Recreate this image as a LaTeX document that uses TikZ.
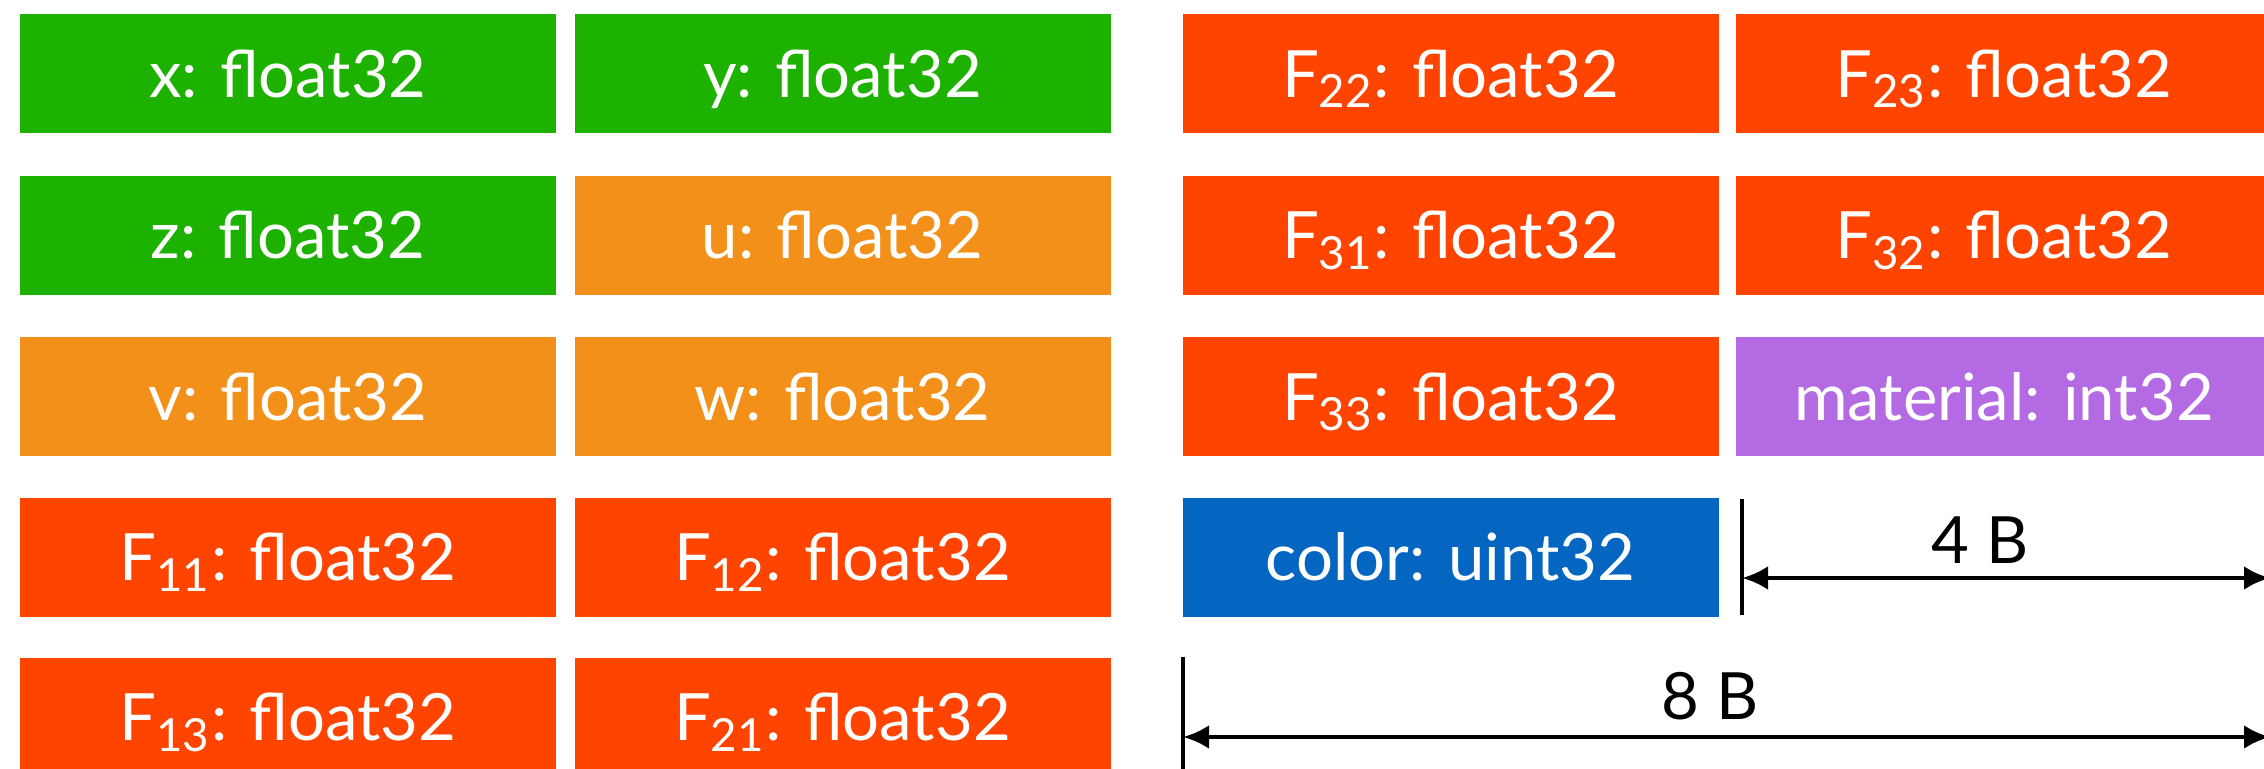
\documentclass[tikz,border=0pt]{standalone}
\usepackage{fontspec}
\setmainfont{Lato}
\usetikzlibrary{arrows.meta}

\definecolor{posgreen}{HTML}{1DB100}
\definecolor{velorange}{HTML}{F39019}
\definecolor{defred}{HTML}{FF4400}
\definecolor{matpurple}{HTML}{B36AE2}
\definecolor{colblue}{HTML}{0466C1}

\begin{document}
\begin{tikzpicture}[x=0.25pt,y=-0.25pt,
  field/.style={rectangle, minimum width=134pt, minimum height=29.75pt,
    inner sep=0pt, text=white, font=\fontsize{16.3}{18}\selectfont,
    text height=11.75pt, text depth=0pt},
  posf/.style={field, fill=posgreen},
  velf/.style={field, fill=velorange},
  deff/.style={field, fill=defred},
  matf/.style={field, fill=matpurple},
  colf/.style={field, fill=colblue},
  tick/.style={line width=1.1pt, black},
  span/.style={line width=1.2pt, black, {Latex[length=6.5pt,width=6pt]}-{Latex[length=6.5pt,width=6pt]}},
  sizelabel/.style={font=\fontsize{16.3}{18}\selectfont, text=black, inner sep=0pt,
    text height=11.75pt, text depth=0pt}]
\useasboundingbox (0,0) rectangle (2264,769);

% left block: two 4-byte fields per row
\node[posf] (x)   at (288,74)    {x: float32};
\node[posf] (y)   at (842.5,74)  {y: float32};
\node[posf] (z)   at (288,235.5) {z: float32};
\node[velf] (u)   at (842.5,235.5) {u: float32};
\node[velf] (v)   at (288,397)   {v: float32};
\node[velf] (w)   at (842.5,397) {w: float32};
\node[deff] (f11) at (288,557.5) {F\textsubscript{11}: float32};
\node[deff] (f12) at (842.5,557.5) {F\textsubscript{12}: float32};
\node[deff] (f13) at (288,717.5) {F\textsubscript{13}: float32};
\node[deff] (f21) at (842.5,717.5) {F\textsubscript{21}: float32};

% right block
\node[deff] (f22) at (1450.5,74)  {F\textsubscript{22}: float32};
\node[deff] (f23) at (2004,74)    {F\textsubscript{23}: float32};
\node[deff] (f31) at (1450.5,235.5) {F\textsubscript{31}: float32};
\node[deff] (f32) at (2004,235.5) {F\textsubscript{32}: float32};
\node[deff] (f33) at (1450.5,397) {F\textsubscript{33}: float32};
\node[matf] (mat) at (2004,397)   {material: int32};
\node[colf] (col) at (1450.5,557.5) {color: uint32};

% size markers
\coordinate (t4a) at (1742,499);
\coordinate (t4b) at (1742,615);
\coordinate (a4l) at (1742,578);
\coordinate (a4r) at (2270,578);
\draw[tick] (t4a) -- (t4b);
\draw[span] (a4l) -- (a4r);
\node[sizelabel] (lab4) at (1980,540) {4 B};

\coordinate (t8a) at (1183,657);
\coordinate (t8b) at (1183,775);
\coordinate (a8l) at (1183,737);
\coordinate (a8r) at (2270,737);
\draw[tick] (t8a) -- (t8b);
\draw[span] (a8l) -- (a8r);
\node[sizelabel] (lab8) at (1710,696) {8 B};
\end{tikzpicture}
\end{document}
